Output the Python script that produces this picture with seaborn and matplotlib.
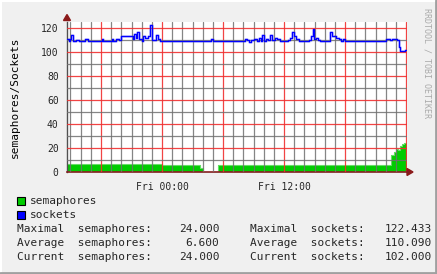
import matplotlib
matplotlib.use("Agg")
import matplotlib.pyplot as plt
import seaborn as sns
import numpy as np
import pandas as pd
from matplotlib.ticker import MultipleLocator, FuncFormatter
from matplotlib.patches import Rectangle, Polygon
from matplotlib.lines import Line2D

# ---- data (hours relative to Fri 00:00) ----
sock_t = [-9.34, -9.14, -9.04, -8.95, -8.75, -8.45, -8.16, -7.57, -7.27, -5.90, -5.80,
          -4.92, -4.82, -4.52, -4.23, -4.03, -2.85, -2.75, -2.56, -2.46, -2.26, -1.97,
          -1.87, -1.67, -1.38, -1.18, -0.98, -0.59, -0.39, -0.20, 4.82, 5.01, 8.16,
          8.36, 8.55, 8.75, 9.04, 9.34, 9.54, 9.73, 9.83, 10.03, 10.22, 10.42, 10.62,
          10.81, 11.11, 11.30, 11.60, 12.39, 12.58, 12.78, 12.98, 13.17, 13.47, 14.45,
          14.65, 14.84, 14.94, 15.14, 15.33, 15.53, 16.51, 16.71, 17.10, 17.40, 17.60,
          17.79, 17.99, 22.02, 22.41, 22.61, 23.10, 23.30, 23.40, 23.69, 23.89, 24.08]
sock_v = [111, 109, 111, 114, 109, 110, 109, 111, 109, 111, 109,
          111, 109, 111, 110, 113, 111, 115, 112, 117, 111, 109,
          113, 112, 113, 122.4, 110, 114, 111, 109, 111, 109, 111,
          110, 108, 110, 111, 109, 112, 109, 114, 109, 111, 110, 114,
          110, 112, 111, 109, 110, 112, 117, 113, 111, 109, 110,
          113, 119, 111, 112, 110, 109, 117, 113, 112, 111, 109,
          111, 109, 111, 110, 111, 110, 104, 100.5, 101, 102, 102]

sem_t = [-9.34, 0.0, 3.73, 4.03, 5.50, 22.51, 22.81, 23.00, 23.20, 23.40, 23.59, 23.79, 24.08]
sem_v = [7, 6, 3, 0, 6, 14, 17, 19, 18, 22, 23, 24, 24]

x_tick_labels = {0: "Fri 00:00", 12: "Fri 12:00"}
stats_left = [("Maximal  semaphores:", "24.000"),
              ("Average  semaphores:", "6.600"),
              ("Current  semaphores:", "24.000")]
stats_right = [("Maximal  sockets:", "122.433"),
               ("Average  sockets:", "110.090"),
               ("Current  sockets:", "102.000")]

sns.set_style("white")
plt.rcParams['font.family'] = ['DejaVu Sans Mono']

W, H = 437, 274
fig = plt.figure(figsize=(W / 100, H / 100), dpi=100)
bg = "#F0F0F0"
fig.patch.set_facecolor(bg)

def fx(px): return px / W
def fy(py): return 1 - py / H

L, R, T, B = 67, 407, 22, 172
ax = fig.add_axes([fx(L), fy(B), (R - L) / W, (B - T) / H])
ax.set_facecolor("white")

sock = pd.DataFrame({"t": sock_t, "v": sock_v})
sem = pd.DataFrame({"t": sem_t, "v": sem_v})

ax.fill_between(sem["t"], 0, sem["v"], step="post", color="#00CC00", lw=0, zorder=1)
sns.lineplot(data=sem, x="t", y="v", drawstyle="steps-post", color="#66DD66", lw=0.8, ax=ax, zorder=1.5)
sns.lineplot(data=sock, x="t", y="v", drawstyle="steps-post", color="#8888FF", lw=1.8, alpha=0.6, ax=ax, zorder=1.6)
sns.lineplot(data=sock, x="t", y="v", drawstyle="steps-post", color="#0000FF", lw=0.9, ax=ax, zorder=3)

ax.set_xlim(-9.34, 24.08)
ax.set_ylim(0, 125)

ax.xaxis.set_major_locator(MultipleLocator(6))
ax.xaxis.set_minor_locator(MultipleLocator(1))
ax.yaxis.set_major_locator(MultipleLocator(20))
ax.yaxis.set_minor_locator(MultipleLocator(10))
ax.xaxis.set_major_formatter(FuncFormatter(lambda v, p: x_tick_labels.get(int(round(v)), "") if abs(v - round(v)) < 1e-6 else ""))
ax.set_axisbelow(False)
ax.grid(True, which="minor", color="#707070", lw=0.9, alpha=0.85)
ax.grid(True, which="major", color="#F03030", lw=0.9, alpha=0.9)
ax.tick_params(axis="both", which="major", length=4, width=0.9, color="#F03030",
               labelsize=7, pad=2, direction="out")
ax.tick_params(axis="x", which="major", pad=3)
ax.tick_params(axis="both", which="minor", length=0)
ax.set_xlabel("")
ax.set_ylabel("")

for s in ["top", "right"]:
    ax.spines[s].set_visible(False)
ax.spines["left"].set_color("#505050")
ax.spines["left"].set_linewidth(1)
ax.spines["bottom"].set_color("#802020")
ax.spines["bottom"].set_linewidth(1.2)

# arrows
fig.add_artist(Line2D([fx(R), fx(408)], [fy(B), fy(B)], color="#802020", lw=1.2))
fig.add_artist(Polygon([[fx(407), fy(168.5)], [fx(413), fy(172)], [fx(407), fy(175.5)]],
                       closed=True, color="#8B1A1A", transform=fig.transFigure))
fig.add_artist(Polygon([[fx(63.5), fy(20.5)], [fx(67), fy(14.5)], [fx(70.5), fy(20.5)]],
                       closed=True, color="#8B1A1A", transform=fig.transFigure))

# y label
fig.text(fx(15), fy(97), "semaphores/Sockets", rotation=90, ha="center", va="center",
         fontsize=8, color="black")
# watermark
fig.text(fx(427), fy(63), "RRDTOOL / TOBI OETIKER", rotation=270, ha="center", va="center",
         fontsize=6, color="#AAAAAA")

# legend
for (py, col, lab) in [(196.5, "#00CC00", "semaphores"), (210.5, "#0000FF", "sockets")]:
    fig.add_artist(Rectangle((fx(16.5), fy(py + 8)), 8 / W, 8 / H, facecolor=col,
                             edgecolor="black", lw=0.8, transform=fig.transFigure))
    fig.text(fx(30), fy(py + 4), lab, ha="left", va="center", fontsize=8)

ys = [228.5, 242.5, 256.5]
for y, (l1, v1), (l2, v2) in zip(ys, stats_left, stats_right):
    fig.text(fx(17), fy(y), l1, ha="left", va="center", fontsize=8)
    fig.text(fx(219.5), fy(y), v1, ha="right", va="center", fontsize=8)
    fig.text(fx(250), fy(y), l2, ha="left", va="center", fontsize=8)
    fig.text(fx(431.5), fy(y), v2, ha="right", va="center", fontsize=8)

# 3D border
fig.add_artist(Line2D([0, 1], [fy(0.5), fy(0.5)], color="white", lw=1.5))
fig.add_artist(Line2D([fx(0.5), fx(0.5)], [0, 1], color="white", lw=1.5))
fig.add_artist(Line2D([0, 1], [fy(272.8), fy(272.8)], color="#A0A0A0", lw=2))
fig.add_artist(Line2D([fx(435.8), fx(435.8)], [0, 1], color="#A0A0A0", lw=2))

fig.savefig("out.png", dpi=100, facecolor=fig.get_facecolor())
